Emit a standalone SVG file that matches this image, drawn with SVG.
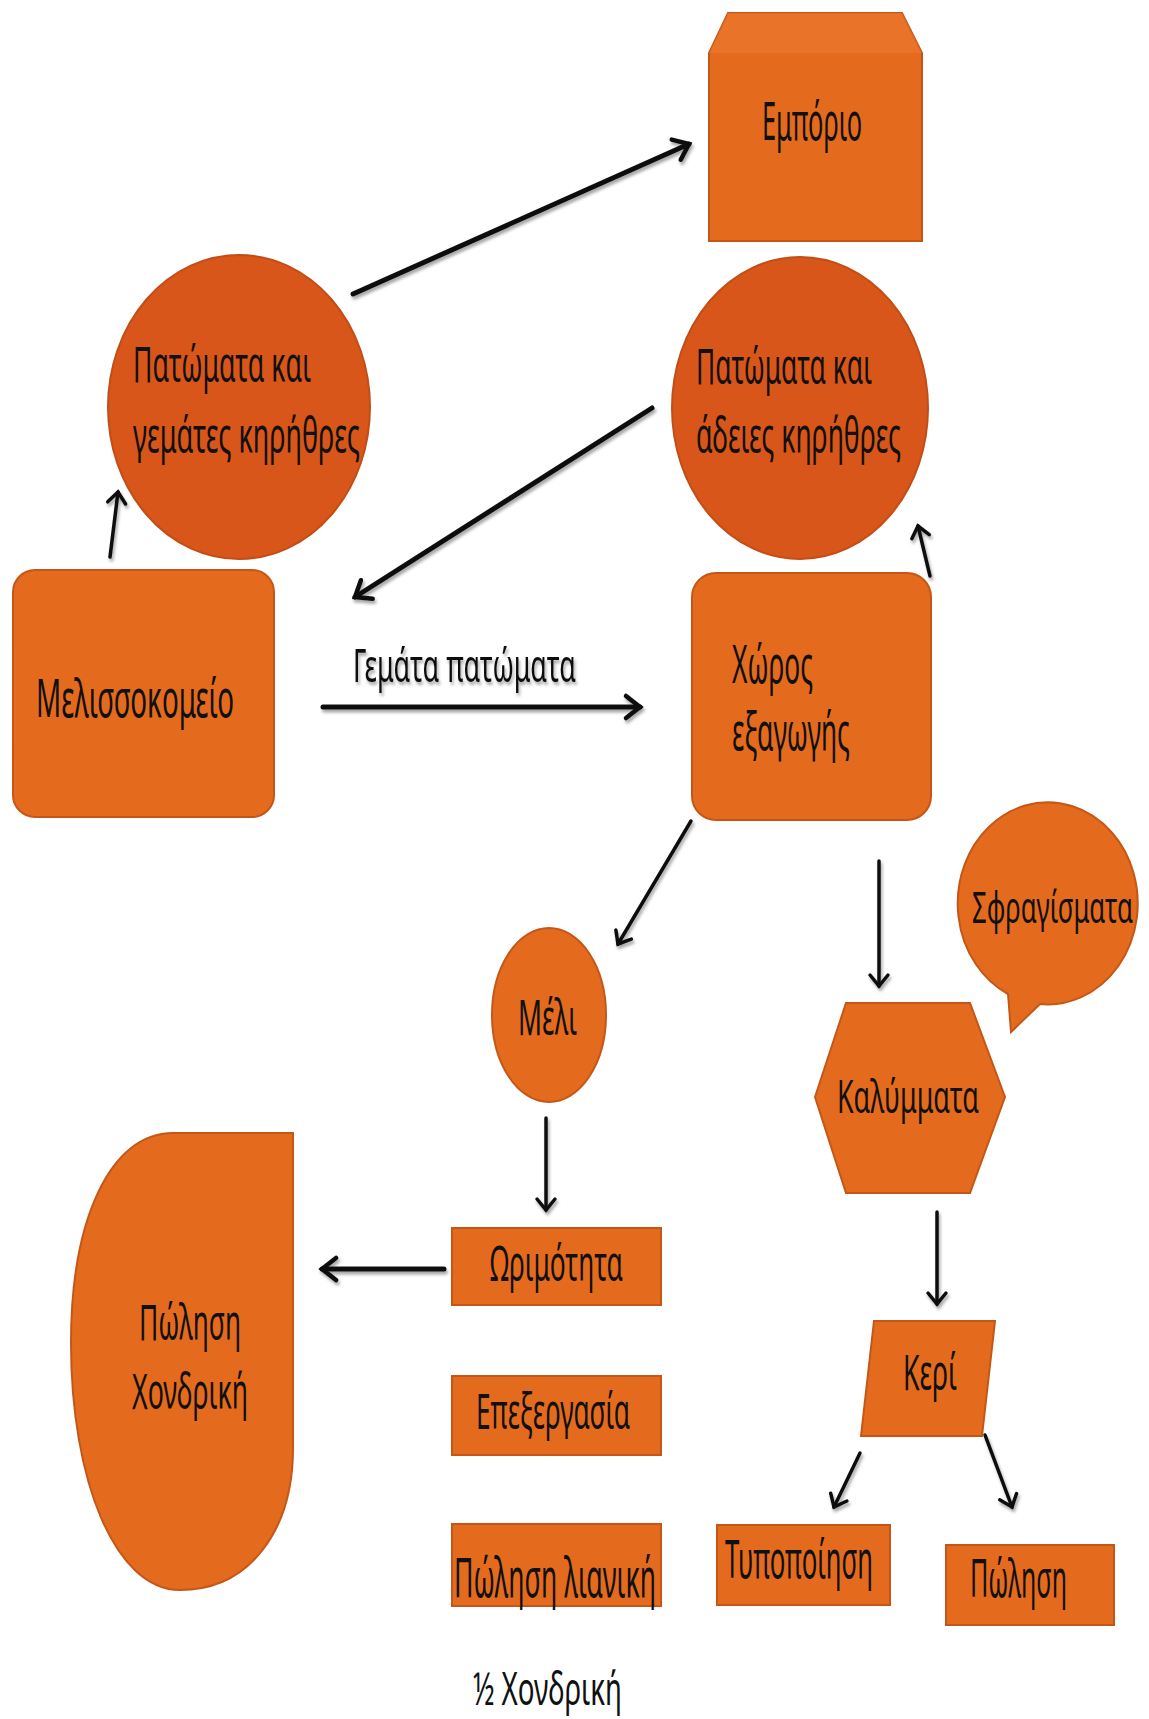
<svg xmlns="http://www.w3.org/2000/svg" width="1149" height="1719" viewBox="0 0 1149 1719">
<defs>
<style>
.box{fill:#E46B1E;stroke:#C45717;stroke-width:2}
.circ{fill:#D8561A;stroke:#C24D16;stroke-width:2}
.t{font-family:"Noto Sans","Open Sans","Liberation Sans",sans-serif;fill:#111;}
.c{fill:none;stroke:#111;stroke-linecap:round}
.thick{stroke-width:5}
.thin{stroke-width:3.5}
</style>
<marker id="ah" markerUnits="userSpaceOnUse" markerWidth="30" markerHeight="30" refX="22" refY="15" orient="auto" overflow="visible">
<path d="M8,4 L22,15 L8,26" fill="none" stroke="#111" stroke-width="4.5" stroke-linecap="round" stroke-linejoin="miter"/>
</marker>
<marker id="ahs" markerUnits="userSpaceOnUse" markerWidth="30" markerHeight="30" refX="20" refY="15" orient="auto" overflow="visible">
<path d="M9,6 L20,15 L9,24" fill="none" stroke="#111" stroke-width="3.5" stroke-linecap="round" stroke-linejoin="miter"/>
</marker>
<filter id="sh" x="-20%" y="-20%" width="140%" height="140%">
<feDropShadow dx="1.5" dy="3" stdDeviation="1.6" flood-color="#000" flood-opacity="0.35"/>
</filter>
</defs>
<rect width="1149" height="1719" fill="#ffffff"/>

<g id="connectors" filter="url(#sh)">
<line class="c thick" x1="353" y1="294" x2="689" y2="144" marker-end="url(#ah)"/>
<line class="c thin" x1="110" y1="557" x2="118" y2="492" marker-end="url(#ahs)"/>
<line class="c thick" x1="652" y1="408" x2="355" y2="597" marker-end="url(#ah)"/>
<line class="c thick" x1="323" y1="707" x2="640" y2="707" marker-end="url(#ah)"/>
<line class="c thin" x1="930" y1="576" x2="918" y2="526" marker-end="url(#ahs)"/>
<line class="c thin" x1="691" y1="821" x2="618" y2="944" marker-end="url(#ahs)"/>
<line class="c thin" x1="879" y1="861" x2="879" y2="986" marker-end="url(#ahs)"/>
<line class="c thin" x1="546" y1="1118" x2="546" y2="1210" marker-end="url(#ahs)"/>
<line class="c thick" x1="444" y1="1269" x2="322" y2="1269" marker-end="url(#ah)"/>
<line class="c thin" x1="937" y1="1212" x2="937" y2="1304" marker-end="url(#ahs)"/>
<line class="c thin" x1="860" y1="1453" x2="834" y2="1507" marker-end="url(#ahs)"/>
<line class="c thin" x1="985" y1="1435" x2="1012" y2="1507" marker-end="url(#ahs)"/>
<text class="t" x="353" y="682" font-size="46" textLength="223" lengthAdjust="spacingAndGlyphs" filter="none">Γεμάτα πατώματα</text>
</g>

<g id="emporio">
<polygon class="box" points="728,13 902,13 922,53 922,241 709,241 709,53"/>
<polygon points="728,13 902,13 922,53 709,53" fill="#EC7A30" opacity="0.6"/>
<text class="t" x="762" y="140" font-size="52" textLength="100" lengthAdjust="spacingAndGlyphs">Εμπόριο</text>
</g>

<g id="full-combs">
<ellipse class="circ" cx="239" cy="407" rx="131" ry="152"/>
<text class="t" x="133" y="382" font-size="50" textLength="178" lengthAdjust="spacingAndGlyphs">Πατώματα και</text>
<text class="t" x="133" y="453" font-size="50" textLength="227" lengthAdjust="spacingAndGlyphs">γεμάτες κηρήθρες</text>
</g>

<g id="empty-combs">
<ellipse class="circ" cx="800" cy="408" rx="128" ry="151"/>
<text class="t" x="696" y="384" font-size="50" textLength="176" lengthAdjust="spacingAndGlyphs">Πατώματα και</text>
<text class="t" x="696" y="453" font-size="50" textLength="205" lengthAdjust="spacingAndGlyphs">άδειες κηρήθρες</text>
</g>

<g id="apiary">
<rect class="box" x="13" y="570" width="261" height="247" rx="22"/>
<text class="t" x="36" y="717" font-size="52" textLength="198" lengthAdjust="spacingAndGlyphs">Μελισσοκομείο</text>
</g>

<g id="extraction">
<rect class="box" x="692" y="573" width="239" height="247" rx="24"/>
<text class="t" x="732" y="683" font-size="52" textLength="81" lengthAdjust="spacingAndGlyphs">Χώρος</text>
<text class="t" x="732" y="750" font-size="52" textLength="118" lengthAdjust="spacingAndGlyphs">εξαγωγής</text>
</g>

<g id="seals">
<path class="box" d="M1008,994 A90,101 0 1 1 1040,1004 L1011,1032 Z"/>
<text class="t" x="972" y="923" font-size="44" textLength="161" lengthAdjust="spacingAndGlyphs">Σφραγίσματα</text>
</g>

<g id="honey">
<ellipse class="box" cx="549" cy="1015" rx="57" ry="87"/>
<text class="t" x="518" y="1035" font-size="50" textLength="59" lengthAdjust="spacingAndGlyphs">Μέλι</text>
</g>

<g id="cappings">
<polygon class="box" points="815,1097 846,1003 970,1003 1005,1097 970,1193 846,1193"/>
<text class="t" x="837" y="1113" font-size="46" textLength="142" lengthAdjust="spacingAndGlyphs">Καλύμματα</text>
</g>

<g id="maturity">
<rect class="box" x="452" y="1228" width="209" height="77"/>
<text class="t" x="490" y="1281" font-size="50" textLength="133" lengthAdjust="spacingAndGlyphs">Ωριμότητα</text>
</g>

<g id="processing">
<rect class="box" x="452" y="1376" width="209" height="79"/>
<text class="t" x="476" y="1429" font-size="50" textLength="154" lengthAdjust="spacingAndGlyphs">Επεξεργασία</text>
</g>

<g id="retail">
<rect class="box" x="452" y="1524" width="209" height="82"/>
<text class="t" x="454" y="1597" font-size="54" textLength="202" lengthAdjust="spacingAndGlyphs">Πώληση λιανική</text>
</g>

<g id="wholesale">
<path class="box" d="M173,1133 L293,1133 L293,1448 C293,1530 250,1590 180,1590 C115,1590 71,1480 71,1343 C71,1220 110,1133 173,1133 Z"/>
<text class="t" x="139" y="1340" font-size="50" textLength="102" lengthAdjust="spacingAndGlyphs">Πώληση</text>
<text class="t" x="132" y="1409" font-size="50" textLength="116" lengthAdjust="spacingAndGlyphs">Χονδρική</text>
</g>

<g id="wax">
<polygon class="box" points="874,1321 995,1321 982,1436 861,1436"/>
<text class="t" x="903" y="1390" font-size="50" textLength="54" lengthAdjust="spacingAndGlyphs">Κερί</text>
</g>

<g id="standardization">
<rect class="box" x="717" y="1525" width="173" height="80"/>
<text class="t" x="725" y="1578" font-size="52" textLength="148" lengthAdjust="spacingAndGlyphs">Τυποποίηση</text>
</g>

<g id="sale">
<rect class="box" x="946" y="1545" width="168" height="80"/>
<text class="t" x="970" y="1597" font-size="52" textLength="97" lengthAdjust="spacingAndGlyphs">Πώληση</text>
</g>

<text class="t" x="473" y="1705" font-size="46" textLength="149" lengthAdjust="spacingAndGlyphs">½ Χονδρική</text>
</svg>
